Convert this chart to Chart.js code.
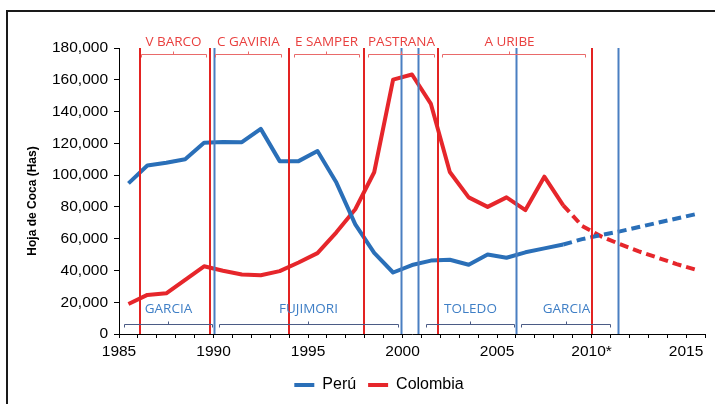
<!DOCTYPE html>
<html><head><meta charset="utf-8">
<script src="https://cdn.jsdelivr.net/npm/chart.js@4.4.0/dist/chart.umd.min.js"></script>
<style>html,body{margin:0;padding:0;background:#fff;}#wrap{width:715px;height:404px;position:relative;}</style>
</head><body><div id="wrap"><canvas id="c" width="715" height="404"></canvas></div>
<script>
// ---- data ----
const years = [1985,1986,1987,1988,1989,1990,1991,1992,1993,1994,1995,1996,1997,1998,1999,2000,2001,2002,2003,2004,2005,2006,2007,2008,2009,2010,2011,2012,2013,2014,2015];
const peru = [94800,106000,107800,110000,120300,120900,120700,129100,108800,108800,115200,95300,69000,51000,38700,43400,46200,46700,43600,50000,48000,51400,53900,56300,59700,62300,64600,67300,70000,72700,75400];
const colombia = [18900,24600,25600,34100,42600,39800,37500,37000,39600,45000,50900,64000,78500,101800,160100,163300,144800,102000,86000,80000,86000,78000,99000,81000,68000,61500,56500,52000,48000,44000,40500];
const projectionFrom = 2008; // dashed from this year on
const xLabelYears = [1985,1990,1995,2000,2005,2010,2015];
const xLabels = ['1985','1990','1995','2000','2005','2010*','2015'];
// vertical markers (year positions)
const redLines = [1986.1, 1989.8, 1994.0, 1997.95, 2001.85, 2010.0];
const blueLines = [1990.0, 1999.9, 2000.8, 2006.0, 2011.4];
// Colombia presidents (top brackets)
const colNames = ['V BARCO','C GAVIRIA','E SAMPER','PASTRANA','A URIBE'];
const colFrom = [1986.16, 1990.08, 1994.26, 1998.16, 2002.1];
const colTo   = [1989.6, 1993.57, 1997.7, 2001.67, 2009.66];
const colMid  = [1987.87, 1991.84, 1995.95, 1999.92, 2005.63];
// Peru presidents (bottom brackets)
const perNames = ['GARCIA','FUJIMORI','TOLEDO','GARCIA'];
const perFrom = [1985.26, 1990.29, 2001.23, 2006.27];
const perTo   = [1989.92, 1999.76, 2005.9, 2010.98];
const perMid  = [1987.6, 1995.0, 2003.57, 2008.63];

const BLUE = '#2a6fb8', RED = '#e6262b';
const mk = arr => years.map((y,i)=>({x: y + 0.5, y: arr[i]}));
const dash = ctx => (ctx.p0.parsed.x >= projectionFrom + 0.5 ? [9,5] : undefined);

const deco = {
  id: 'deco',
  beforeDraw(chart){
    const c = chart.ctx;
    c.save();
    c.fillStyle = '#fff'; c.fillRect(0,0,chart.width,chart.height);
    c.strokeStyle = '#1a1a1a'; c.lineWidth = 2;
    c.strokeRect(7, 11, 760, 460);
    // axis title
    c.translate(33, 201); c.rotate(-Math.PI/2);
    c.fillStyle = '#000'; c.font = 'bold 12px "Liberation Sans", Arial, sans-serif';
    c.textAlign = 'center'; c.textBaseline = 'middle';
    c.fillText('Hoja de Coca (Has)', 0, 0);
    c.restore();
  },
  afterDatasetsDraw(chart){
    const c = chart.ctx, xs = chart.scales.x, a = chart.chartArea;
    c.save();
    c.lineWidth = 2;
    c.strokeStyle = '#e32322';
    redLines.forEach(v=>{const x = Math.round(xs.getPixelForValue(v)); c.beginPath(); c.moveTo(x, a.top); c.lineTo(x, a.bottom); c.stroke();});
    c.strokeStyle = '#4a7fc1';
    blueLines.forEach(v=>{const x = Math.round(xs.getPixelForValue(v))+0.5; c.beginPath(); c.moveTo(x, a.top); c.lineTo(x, a.bottom); c.stroke();});
    // brackets
    const bracket = (x1,x2,xm,y,col)=>{
      c.strokeStyle = col; c.lineWidth = 1;
      c.beginPath();
      c.moveTo(x1, y+3.5); c.lineTo(x1, y+0.5); c.lineTo(x2, y+0.5); c.lineTo(x2, y+3.5);
      c.moveTo(xm, y+0.5); c.lineTo(xm, y-2.5);
      c.stroke();
    };
    c.font = '13.5px "Open Sans", sans-serif';
    c.textAlign = 'center'; c.textBaseline = 'middle';
    colNames.forEach((n,i)=>{
      const x1 = xs.getPixelForValue(colFrom[i]), x2 = xs.getPixelForValue(colTo[i]), xm = Math.round(xs.getPixelForValue(colMid[i]))+0.5;
      bracket(Math.round(x1)+0.5, Math.round(x2)+0.5, xm, a.top + 6, '#e96a6a');
      c.fillStyle = '#e9403f';
      c.fillText(n, xm, a.top - 6);
    });
    perNames.forEach((n,i)=>{
      const x1 = xs.getPixelForValue(perFrom[i]), x2 = xs.getPixelForValue(perTo[i]), xm = Math.round(xs.getPixelForValue(perMid[i]))+0.5;
      bracket(Math.round(x1)+0.5, Math.round(x2)+0.5, xm, a.bottom - 10, '#4b5b85');
      c.fillStyle = '#3f7fc6';
      c.fillText(n, xm, a.bottom - 25);
    });
    c.restore();
  }
};

new Chart(document.getElementById('c'), {
  type: 'line',
  data: {
    datasets: [
      {label: 'Perú', data: mk(peru), borderColor: BLUE, backgroundColor: BLUE, borderWidth: 4,
       pointRadius: 0, pointStyle: 'line', tension: 0, borderJoinStyle: 'round', segment: {borderDash: dash}},
      {label: 'Colombia', data: mk(colombia), borderColor: RED, backgroundColor: RED, borderWidth: 4,
       pointRadius: 0, pointStyle: 'line', tension: 0, borderJoinStyle: 'round', segment: {borderDash: dash}}
    ]
  },
  options: {
    responsive: false, animation: false, devicePixelRatio: 1,
    layout: {padding: {left: 53, right: 10, top: 48, bottom: 1}},
    plugins: {
      tooltip: {enabled: false},
      legend: {position: 'bottom', labels: {usePointStyle: true, pointStyleWidth: 20, padding: 12, color: '#000',
        font: {family: '"Liberation Sans", Arial, sans-serif', size: 16}}}
    },
    scales: {
      x: {type: 'linear', min: 1985, max: 2016,
        afterFit: s => { s.height = 31; },
        border: {display: true, color: '#000', width: 1},
        grid: {display: true, drawOnChartArea: false, drawTicks: true, tickLength: 4, color: '#000'},
        ticks: {stepSize: 1, autoSkip: false, maxRotation: 0, padding: 4, color: '#000',
          font: {family: '"Liberation Sans", Arial, sans-serif', size: 15.5},
          callback: v => { const k = xLabelYears.indexOf(v); return k >= 0 ? xLabels[k] : ''; }}
      },
      y: {min: 0, max: 180000,
        afterFit: s => { s.width = 66; },
        border: {display: true, color: '#000', width: 1},
        grid: {display: true, drawOnChartArea: false, drawTicks: true, tickLength: 5, color: '#000'},
        ticks: {stepSize: 20000, padding: 6, color: '#000',
          font: {family: '"Liberation Sans", Arial, sans-serif', size: 15.5},
          callback: v => v.toLocaleString('en-US')}
      }
    }
  },
  plugins: [deco]
});
</script></body></html>
